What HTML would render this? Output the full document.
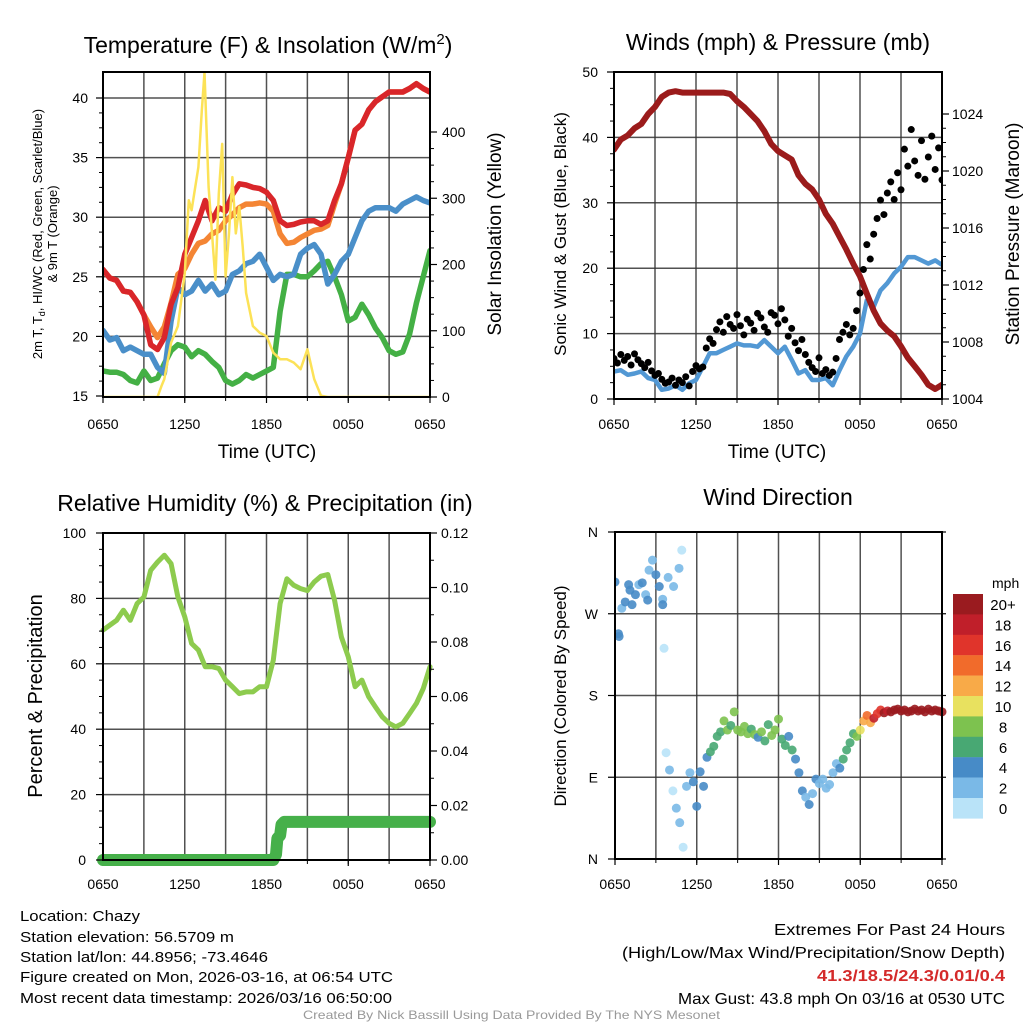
<!DOCTYPE html>
<html><head><meta charset="utf-8"><style>
html,body{margin:0;padding:0;background:#fff;}
svg{display:block;font-family:"Liberation Sans",sans-serif;}
</style></head><body>
<svg id="chart" width="1024" height="1024" viewBox="0 0 1024 1024" xmlns="http://www.w3.org/2000/svg">
<rect width="1024" height="1024" fill="#fff"/>
<g id="g1"></g>
<g id="g2"></g>
<g id="g3"></g>
<g id="g4"></g>
<text x="268" y="53" font-size="23" text-anchor="middle">Temperature (F) &amp; Insolation (W/m<tspan dy="-9" font-size="15">2</tspan><tspan dy="9">)</tspan></text>
<text x="778" y="50" font-size="23" text-anchor="middle">Winds (mph) &amp; Pressure (mb)</text>
<text x="265" y="511" font-size="23" text-anchor="middle">Relative Humidity (%) &amp; Precipitation (in)</text>
<text x="778" y="505" font-size="23" text-anchor="middle">Wind Direction</text>
<text x="267" y="458" font-size="19" text-anchor="middle">Time (UTC)</text>
<text x="777" y="458" font-size="19" text-anchor="middle">Time (UTC)</text>
<text transform="translate(42,234) rotate(-90)" font-size="13" text-anchor="middle">2m T, T<tspan font-size="9" dy="3">d</tspan><tspan dy="-3">, HI/WC (Red, Green, Scarlet/Blue)</tspan></text>
<text transform="translate(57,234) rotate(-90)" font-size="13" text-anchor="middle">&amp; 9m T (Orange)</text>
<text transform="translate(501,234) rotate(-90)" font-size="19" text-anchor="middle">Solar Insolation (Yellow)</text>
<text transform="translate(566,234) rotate(-90)" font-size="17" text-anchor="middle">Sonic Wind &amp; Gust (Blue, Black)</text>
<text transform="translate(1019,234) rotate(-90)" font-size="19" text-anchor="middle">Station Pressure (Maroon)</text>
<text transform="translate(42,696) rotate(-90)" font-size="20" text-anchor="middle">Percent &amp; Precipitation</text>
<text transform="translate(566,696) rotate(-90)" font-size="17" text-anchor="middle">Direction (Colored By Speed)</text>
<g font-size="15">
<text x="20" y="921" textLength="120" lengthAdjust="spacingAndGlyphs">Location: Chazy</text>
<text x="20" y="942" textLength="214" lengthAdjust="spacingAndGlyphs">Station elevation: 56.5709 m</text>
<text x="20" y="962" textLength="248" lengthAdjust="spacingAndGlyphs">Station lat/lon: 44.8956; -73.4646</text>
<text x="20" y="982" textLength="373" lengthAdjust="spacingAndGlyphs">Figure created on Mon, 2026-03-16, at 06:54 UTC</text>
<text x="20" y="1003" textLength="372" lengthAdjust="spacingAndGlyphs">Most recent data timestamp: 2026/03/16 06:50:00</text>
</g>
<g font-size="16">
<text x="774" y="935" textLength="231" lengthAdjust="spacingAndGlyphs">Extremes For Past 24 Hours</text>
<text x="622" y="958" textLength="383" lengthAdjust="spacingAndGlyphs">(High/Low/Max Wind/Precipitation/Snow Depth)</text>
<text x="817" y="981" textLength="188" lengthAdjust="spacingAndGlyphs" fill="#d42a2a" font-weight="bold">41.3/18.5/24.3/0.01/0.4</text>
<text x="678" y="1004" textLength="327" lengthAdjust="spacingAndGlyphs">Max Gust: 43.8 mph On 03/16 at 0530 UTC</text>
</g>
<text x="303" y="1019" font-size="12" fill="#999" textLength="417" lengthAdjust="spacingAndGlyphs">Created By Nick Bassill Using Data Provided By The NYS Mesonet</text>
</svg>
<script>
// ---- data (half-hourly unless noted, t=0 at 0650 UTC) ----
const xTickLabels = ["0650","1250","1850","0050","0650"];
const tempTicks = [15,20,25,30,35,40];
const insolTicks = [0,100,200,300,400];
const windTicks = [0,10,20,30,40,50];
const presTicks = [1004,1008,1012,1016,1020,1024];
const rhTicks = [0,20,40,60,80,100];
const precipTicks = [0,0.02,0.04,0.06,0.08,0.10,0.12];
const dirTickLabels = ["N","E","S","W","N"];
const tempRed = [25.6,24.9,24.7,23.8,23.7,22.9,21.8,19.3,18.9,19.9,22.7,24.1,26.9,28.3,29.7,31.4,29.7,30.8,30.5,31.9,32.8,32.7,32.5,32.4,32.1,31.4,29.7,29.3,29.4,29.6,29.7,29.7,29.4,29.7,31.4,32.8,35.0,37.3,37.8,39.0,39.7,40.1,40.5,40.5,40.5,40.8,41.2,40.8,40.5];
const temp9m = [25.6,24.9,24.7,23.8,23.7,22.9,21.8,20.8,19.9,20.8,22.8,25.2,25.7,26.9,27.8,28.0,28.6,28.9,29.7,30.2,30.8,31.1,31.1,31.2,31.1,30.5,28.6,27.8,27.9,28.3,28.6,28.9,29.0,29.3,31.1,32.8,35.0,37.3,37.8,39.0,39.7,40.1,40.5,40.5,40.5,40.8,41.2,40.8,40.5];
const windChill = [20.5,19.7,19.9,18.8,19.1,18.8,18.5,18.5,17.4,16.9,21.3,24.1,23.5,23.8,24.7,23.8,24.4,23.5,23.8,25.2,25.5,26.1,26.3,26.9,25.8,24.7,25.2,25.0,25.2,26.9,27.4,27.7,26.9,24.4,25.2,26.3,26.9,28.3,29.7,30.5,30.8,30.8,30.8,30.5,31.1,31.4,31.7,31.4,31.2];
const dewPoint = [17.1,17.0,17.0,16.8,16.3,16.1,17.1,16.3,16.5,17.7,18.8,19.3,19.1,18.3,18.8,18.5,17.9,17.4,16.3,16.0,16.3,16.8,16.5,16.8,17.1,17.4,22.1,25.2,25.2,25.0,25.0,25.5,26.1,26.3,25.0,23.5,21.3,21.6,22.7,21.8,20.7,19.9,18.8,18.5,18.7,20.2,22.8,25.0,27.2];
const insolTime = [0,3.5,4,4.3,4.5,5,5.5,6,6.3,6.5,7,7.25,7.45,7.75,8,8.25,8.5,8.75,9,9.25,9.5,9.75,10,10.25,10.5,11,11.5,12,12.5,13,13.5,14,14.5,15,15.5,16,16.5,24];
const insolation = [0,0,0,17,27,82,107,187,297,282,347,432,490,317,247,177,307,382,182,247,332,247,287,227,157,107,97,92,67,57,57,52,42,72,27,2,0,0];
const pressure = [1021.5,1022.2,1022.5,1023.0,1023.3,1024.0,1024.5,1025.2,1025.5,1025.6,1025.5,1025.5,1025.5,1025.5,1025.5,1025.5,1025.5,1025.4,1024.9,1024.5,1024.0,1023.5,1022.8,1021.9,1021.4,1021.1,1020.8,1019.7,1019.1,1018.7,1018.0,1017.0,1016.3,1015.4,1014.5,1013.5,1012.6,1011.4,1010.2,1009.3,1008.8,1008.4,1007.7,1006.9,1006.3,1005.7,1005.0,1004.7,1005.0];
const windSpeed = [4.2,4.4,3.7,3.9,4.2,3.2,2.9,1.4,1.6,2.1,1.4,2.4,2.9,4.9,7.0,7.0,7.5,8.0,8.5,8.2,8.2,8.0,9.0,8.0,7.0,8.0,6.0,3.9,4.4,2.9,2.9,3.2,2.1,4.4,6.5,8.0,10.0,15.1,14.1,16.6,17.7,19.2,20.2,21.7,21.7,21.2,20.7,21.2,20.5];
// gusts every 15 min
const windGust = [6.2,5.5,6.8,5.9,6.5,5.2,6.9,6.0,5.4,4.8,5.6,4.3,3.6,3.9,3.0,2.4,2.6,3.2,2.1,2.9,2.5,3.4,2.0,4.2,5.1,4.6,4.9,7.8,9.2,8.5,10.6,11.8,10.2,12.6,11.4,10.8,12.9,11.2,9.8,12.2,11.6,10.5,13.1,12.4,11.0,10.2,13.2,12.8,11.5,13.8,12.1,9.6,10.8,8.6,7.4,9.1,6.8,5.6,4.8,4.2,6.3,3.9,4.5,3.6,4.1,6.2,9.1,10.2,11.4,9.8,10.8,13.5,16.2,19.8,23.6,21.4,25.2,27.6,30.4,28.2,31.5,33.2,30.5,34.6,32.0,38.2,35.6,41.2,36.4,34.2,39.5,33.6,37.0,40.2,35.1,38.4,33.5];
const relHum = [70.3,71.8,73.3,76.4,73.3,78.4,80.4,88.6,91.1,93.2,90.6,80.4,74.3,66.2,64.2,59.1,59.1,58.6,55.0,53.0,50.9,51.4,51.4,53.0,53.0,61.1,78.4,86.0,84.0,83.0,82.4,85.0,86.8,87.3,79.4,68.2,62.1,53.0,55.0,49.9,46.8,43.8,41.8,40.7,41.8,44.8,47.9,52.4,59.1];
const precipTime = [0,12.5,12.7,12.8,13.0,13.1,13.3,24];
const precip = [0,0,0.002,0.008,0.009,0.013,0.014,0.014];
const dirTime = [0,0.25,0.5,0.75,1,1.25,1.5,1.75,2,2.25,2.5,2.75,3,3.25,3.5,3.75,4,4.25,4.5,4.75,5,5.25,5.5,5.75,6,6.25,6.5,6.75,7,7.25,7.5,7.75,8,8.25,8.5,8.75,9,9.25,9.5,9.75,10,10.25,10.5,10.75,11,11.25,11.5,11.75,12,12.25,12.5,12.75,13,13.25,13.5,13.75,14,14.25,14.5,14.75,15,15.25,15.5,15.75,16,16.25,16.5,16.75,17,17.25,17.5,17.75,18,18.25,18.5,18.75,19,19.25,19.5,19.75,20,20.25,20.5,20.75,21,21.25,21.5,21.75,22,22.25,22.5,22.75,23,23.25,23.5,23.75,24,4.9,4.7,3.6,3.9,3.5,4.3,0.3,1.1,2.4];
const direction = [305,248,276,283,302,280,291,302,304,291,318,329,313,300,286,117,98,75,56,40,13,80,95,85,58,96,80,112,118,124,135,140,152,142,147,162,142,140,146,138,143,137,134,140,130,148,136,142,154,132,125,135,120,110,95,75,68,60,72,88,83,88,78,82,95,105,100,110,120,128,138,135,142,152,158,150,155,160,164,161,163,162,164,165,163,164,162,163,165,163,164,162,165,163,164,163,162,340,320,232,310,280,300,245,296,285];
const dirSpeed = [4.5,4.5,2.5,4.5,4.5,4.5,4.5,2.5,4.5,2.5,2.5,2.5,4.5,4.5,2.5,1,2.5,1,2.5,2.5,1,2.5,2.5,4.5,4.5,4.5,4.5,4.5,6.5,6.5,6.5,6.5,8.5,8.5,6.5,8.5,8.5,8.5,8.5,8.5,6.5,8.5,4.5,8.5,6.5,6.5,8.5,8.5,8.5,6.5,6.5,4.5,6.5,4.5,4.5,4.5,2.5,4.5,2.5,4.5,2.5,2.5,2.5,2.5,2.5,2.5,4.5,6.5,6.5,6.5,6.5,8.5,10.5,12.5,14.5,12.5,18.5,16.5,16.5,20.5,18.5,20.5,20.5,20.5,20.5,20.5,20.5,20.5,20.5,20.5,20.5,20.5,20.5,20.5,20.5,20.5,20.5,1,2.5,1,2.5,4.5,2.5,4.5,4.5,4.5];
const cbLabels = ["20+","18","16","14","12","10","8","6","4","2","0"];
const cbColors = ["#9a1b1f","#c01f2a","#e0342b","#f16b2b","#f8aa48","#e8e15f","#7dc24f","#48a873","#478bc7","#7ab9e7","#b9e3f8"];

// ---- helpers ----
const NS="http://www.w3.org/2000/svg";
function mk(parent,tag,attrs){const e=document.createElementNS(NS,tag);for(const k in attrs)e.setAttribute(k,attrs[k]);parent.appendChild(e);return e;}
function lin(d0,d1,r0,r1){return v=>r0+(v-d0)*(r1-r0)/(d1-d0);}
function halfHourly(arr){return arr.map((v,i)=>[i*0.5,v]);}
function pathD(pts,sx,sy){return pts.map((p,i)=>(i?"L":"M")+sx(p[0]).toFixed(1)+","+sy(p[1]).toFixed(1)).join("");}
function speedColor(s){let b=Math.min(10,Math.floor(s/2));return cbColors[10-b];}

function frame(g,x0,x1,y0,y1,hGrid,sy,xLabY){
  const sx=lin(0,24,x0,x1);
  for(let h=3;h<24;h+=3){
    const l=mk(g,"line",{x1:sx(h),x2:sx(h),y1:y0,y2:y1,stroke:"#333","stroke-width":1.5,"stroke-opacity":0.85});
    
    
  }
  hGrid.forEach(v=>{
    const l=mk(g,"line",{x1:x0,x2:x1,y1:sy(v),y2:sy(v),stroke:"#333","stroke-width":1.5,"stroke-opacity":0.85});
    
    
  });
  xTickLabels.forEach((lab,i)=>{
    const x=sx(i*6);
    mk(g,"line",{x1:x,x2:x,y1:y1,y2:y1+6,stroke:"#000","stroke-width":1.2});
    const t=mk(g,"text",{x:x,y:xLabY,"font-size":14,"text-anchor":"middle"});t.textContent=lab;
    
    
  });
  for(let h=0;h<=24;h+=3){mk(g,"line",{x1:sx(h),x2:sx(h),y1:y1,y2:y1+4,stroke:"#000","stroke-width":1});}
  return sx;
}
function border(g,x0,x1,y0,y1){const r=mk(g,"rect",{x:x0,y:y0,width:x1-x0,height:y1-y0,fill:"none",stroke:"#000","stroke-width":2});
  
  }
function yTicks(g,ticks,sy,x,side,fmt,lx){
  ticks.forEach(v=>{
    const y=sy(v);
    mk(g,"line",{x1:x,x2:x+(side<0?-7:7),y1:y,y2:y,stroke:"#000","stroke-width":1.2});
    const t=mk(g,"text",{x:lx,y:y+5,"font-size":14,"text-anchor":side<0?"end":"start"});t.textContent=fmt(v);
    
    
  });
  for(let i=0;i<ticks.length-1;i++){
    for(let k=1;k<4;k++){
      if(k%2 && ticks.length>6) continue;
      const v=ticks[i]+(ticks[i+1]-ticks[i])*k/4;const y=sy(v);
      mk(g,"line",{x1:x,x2:x+(side<0?-4:4),y1:y,y2:y,stroke:"#000","stroke-width":1});
    }
  }
}

// ---- panel 1 ----
(function(){
  const g=document.getElementById("g1");
  const x0=103,x1=430,y0=72,y1=397;
  const sy=lin(15,40,396,98), si=lin(0,400,397,132);
  const sx=frame(g,x0,x1,y0,y1,[20,25,30,35,40],sy,429);
  const clip=mk(g,"clipPath",{id:"c1"});mk(clip,"rect",{x:x0,y:y0,width:x1-x0,height:y1-y0});
  const pg=mk(g,"g",{"clip-path":"url(#c1)"});
  const series=[[dewPoint,"#44b045","dew-point-line"],[windChill,"#4a8fc9","wind-chill-line"],[temp9m,"#f48534","temp-9m-line"],[tempRed,"#d9262a","temp-2m-line"]];
  series.forEach(s=>{
    const p=mk(pg,"path",{d:pathD(halfHourly(s[0]),sx,sy),fill:"none",stroke:s[1],"stroke-width":5.5,"stroke-linejoin":"round","stroke-linecap":"round"});
    
    
  });
  const ins=mk(pg,"path",{d:pathD(insolTime.map((t,i)=>[t,insolation[i]]),sx,si),fill:"none",stroke:"#fce257","stroke-width":2.5,"stroke-linejoin":"round"});
  
  
  border(g,x0,x1,y0,y1);
  yTicks(g,tempTicks,sy,x0,-1,v=>v,88);
  yTicks(g,insolTicks,si,x1,1,v=>v,442);
})();

// ---- panel 2 ----
(function(){
  const g=document.getElementById("g2");
  const x0=614,x1=942,y0=72,y1=399;
  const sy=lin(0,50,399,72), sp=lin(1004,1024,399,114);
  const sx=frame(g,x0,x1,y0,y1,[10,20,30,40],sy,429);
  const clip=mk(g,"clipPath",{id:"c2"});mk(clip,"rect",{x:x0,y:y0,width:x1-x0,height:y1-y0});
  const pg=mk(g,"g",{"clip-path":"url(#c2)"});
  const w=mk(pg,"path",{d:pathD(halfHourly(windSpeed),sx,sy),fill:"none",stroke:"#5298d4","stroke-width":4.5,"stroke-linejoin":"round"});
  
  
  windGust.forEach((v,i)=>{
    const c=mk(pg,"circle",{cx:sx(i*0.25),cy:sy(v),r:3.5,fill:"#000"});
    
    
  });
  const p=mk(pg,"path",{d:pathD(halfHourly(pressure),sx,sp),fill:"none",stroke:"#9b1b1b","stroke-width":6,"stroke-linejoin":"round","stroke-linecap":"round"});
  
  
  border(g,x0,x1,y0,y1);
  yTicks(g,windTicks,sy,x0,-1,v=>v,598);
  yTicks(g,presTicks,sp,x1,1,v=>v,952);
})();

// ---- panel 3 ----
(function(){
  const g=document.getElementById("g3");
  const x0=103,x1=430,y0=533,y1=860;
  const sy=lin(0,100,860,533), sp=lin(0,0.12,860,533);
  const sx=frame(g,x0,x1,y0,y1,[20,40,60,80],sy,889);
  const rh=mk(g,"path",{d:pathD(halfHourly(relHum),sx,sy),fill:"none",stroke:"#8dcb4e","stroke-width":5,"stroke-linejoin":"round","stroke-linecap":"round"});
  
  
  const pr=mk(g,"path",{d:pathD(precipTime.map((t,i)=>[t,precip[i]]),sx,sp),fill:"none",stroke:"#46b04a","stroke-width":12,"stroke-linejoin":"round","stroke-linecap":"round"});
  
  
  border(g,x0,x1,y0,y1);
  yTicks(g,rhTicks,sy,x0,-1,v=>v,86);
  yTicks(g,precipTicks,sp,x1,1,v=>v.toFixed(2),441);
})();

// ---- panel 4 ----
(function(){
  const g=document.getElementById("g4");
  const x0=615,x1=942,y0=532,y1=859;
  const sy=lin(0,360,859,532);
  const sx=frame(g,x0,x1,y0,y1,[90,180,270],sy,889);
  const clip=mk(g,"clipPath",{id:"c4"});mk(clip,"rect",{x:x0,y:y0-6,width:x1-x0+6,height:y1-y0+12});
  const pg=mk(g,"g",{"clip-path":"url(#c4)"});
  direction.forEach((d,i)=>{
    const c=mk(pg,"circle",{cx:sx(dirTime[i]),cy:sy(d),r:4.5,fill:speedColor(dirSpeed[i]),"fill-opacity":0.9});
    
    
  });
  border(g,x0,x1,y0,y1);
  dirTickLabels.forEach((lab,i)=>{
    const y=sy(i*90);
    mk(g,"line",{x1:x0,x2:x0-7,y1:y,y2:y,stroke:"#000","stroke-width":1.2});
    mk(g,"line",{x1:x1,x2:x1+4,y1:y,y2:y,stroke:"#000","stroke-width":1.2});
    const t=mk(g,"text",{x:598,y:y+5,"font-size":14,"text-anchor":"end"});t.textContent=lab;
    
    
  });
  // colorbar
  const cb=mk(g,"g",{});
  
  
  const ut=mk(cb,"text",{x:992,y:588,"font-size":14}); ut.textContent="mph";
  cbLabels.forEach((lab,i)=>{
    const y=594+i*20.4;
    mk(cb,"rect",{x:953,y:y,width:30,height:20.6,fill:cbColors[i]});
    const t=mk(cb,"text",{x:1003,y:y+16,"font-size":15,"text-anchor":"middle"});t.textContent=lab;
    
    
  });
})();
</script>
</body></html>
